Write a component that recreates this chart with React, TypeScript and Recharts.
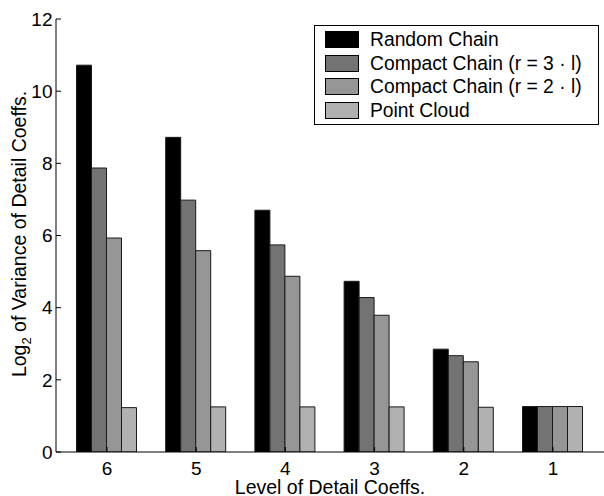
import React from "react";
import { BarChart, Bar, XAxis, YAxis, Legend } from "recharts";

const levels = ["6", "5", "4", "3", "2", "1"];
const randomChain = [10.72, 8.72, 6.7, 4.73, 2.85, 1.26];
const compact3 = [7.87, 6.98, 5.74, 4.28, 2.67, 1.26];
const compact2 = [5.93, 5.58, 4.87, 3.79, 2.5, 1.26];
const pointCloud = [1.23, 1.25, 1.25, 1.25, 1.24, 1.26];
const yTicks = [0, 2, 4, 6, 8, 10, 12];

const seriesNames = [
  "Random Chain",
  "Compact Chain (r = 3 \u00b7 l)",
  "Compact Chain (r = 2 \u00b7 l)",
  "Point Cloud",
];
const seriesColors = ["#000000", "#737373", "#969696", "#b1b1b1"];

const data = levels.map((level, i) => ({
  level,
  s0: randomChain[i],
  s1: compact3[i],
  s2: compact2[i],
  s3: pointCloud[i],
}));

const FONT = "'Liberation Sans', Arial, Helvetica, sans-serif";
const FS = 19;

const LegendBox = () => (
  <div
    style={{
      border: "1px solid #000",
      background: "#fff",
      boxSizing: "border-box",
      width: 285,
      height: 100,
      padding: "2px 0 0 10px",
      fontFamily: FONT,
      fontSize: 19.3,
      color: "#000",
    }}
  >
    {seriesNames.map((name, i) => (
      <div key={name} style={{ display: "flex", alignItems: "center", height: 23.5 }}>
        <div
          style={{
            width: 34,
            height: 17,
            boxSizing: "border-box",
            background: seriesColors[i],
            border: "1px solid #000",
            marginRight: 11,
            flexShrink: 0,
          }}
        />
        <span style={{ lineHeight: "19px", whiteSpace: "nowrap" }}>{name}</span>
      </div>
    ))}
  </div>
);

const YLabel = () => (
  <text
    x={26}
    y={234}
    transform="rotate(-90, 26, 234)"
    textAnchor="middle"
    fontFamily={FONT}
    fontSize={19.5}
    fill="#000"
  >
    Log
    <tspan dy={5} fontSize={13}>2</tspan>
    <tspan dy={-5}> of Variance of Detail Coeffs.</tspan>
  </text>
);

const XLabel = () => (
  <text x={330} y={494} textAnchor="middle" fontFamily={FONT} fontSize={19.5} fill="#000">
    Level of Detail Coeffs.
  </text>
);

export default function App() {
  const pad = { left: 6.4, right: 6.4 };
  return (
    <div style={{ position: "absolute", left: 0, top: 0, width: 604, height: 496, background: "#fff" }}>
      <BarChart
        width={604}
        height={496}
        data={data}
        margin={{ top: 19, right: 0, bottom: 0, left: 0 }}
        barCategoryGap={14.1}
        barGap={0}
      >
        <XAxis
          dataKey="level"
          xAxisId="bottom"
          orientation="bottom"
          height={44}
          padding={pad}
          tickSize={-5}
          tickMargin={15}
          axisLine={{ stroke: "#000" }}
          tickLine={{ stroke: "#000" }}
          tick={{ fill: "#000", fontSize: FS, fontFamily: FONT }}
          label={<XLabel />}
        />
        <XAxis
          dataKey="level"
          xAxisId="top"
          orientation="top"
          height={0}
          padding={pad}
          tickSize={-5}
          axisLine={{ stroke: "#000" }}
          tickLine={{ stroke: "#000" }}
          tick={false}
        />
        <YAxis
          yAxisId="left"
          orientation="left"
          width={56}
          domain={[0, 12]}
          ticks={yTicks}
          allowDataOverflow
          tickSize={-5}
          tickMargin={8.5}
          axisLine={{ stroke: "#000" }}
          tickLine={{ stroke: "#000" }}
          tick={{ fill: "#000", fontSize: FS, fontFamily: FONT }}
          label={<YLabel />}
        />
        <YAxis
          yAxisId="right"
          orientation="right"
          width={0}
          domain={[0, 12]}
          ticks={yTicks}
          tickSize={-5}
          axisLine={false}
          tickLine={{ stroke: "#000" }}
          tick={false}
        />
        <Legend
          layout="horizontal"
          verticalAlign="middle"
          align="center"
          content={<LegendBox />}
          wrapperStyle={{ top: 25, left: 314, width: 285, height: 100 }}
        />
        {seriesNames.map((name, i) => (
          <Bar
            key={name}
            dataKey={`s${i}`}
            name={name}
            xAxisId="bottom"
            yAxisId="left"
            fill={seriesColors[i]}
            stroke="#1a1a1a"
            strokeWidth={1}
            isAnimationActive={false}
          />
        ))}
      </BarChart>
    </div>
  );
}
